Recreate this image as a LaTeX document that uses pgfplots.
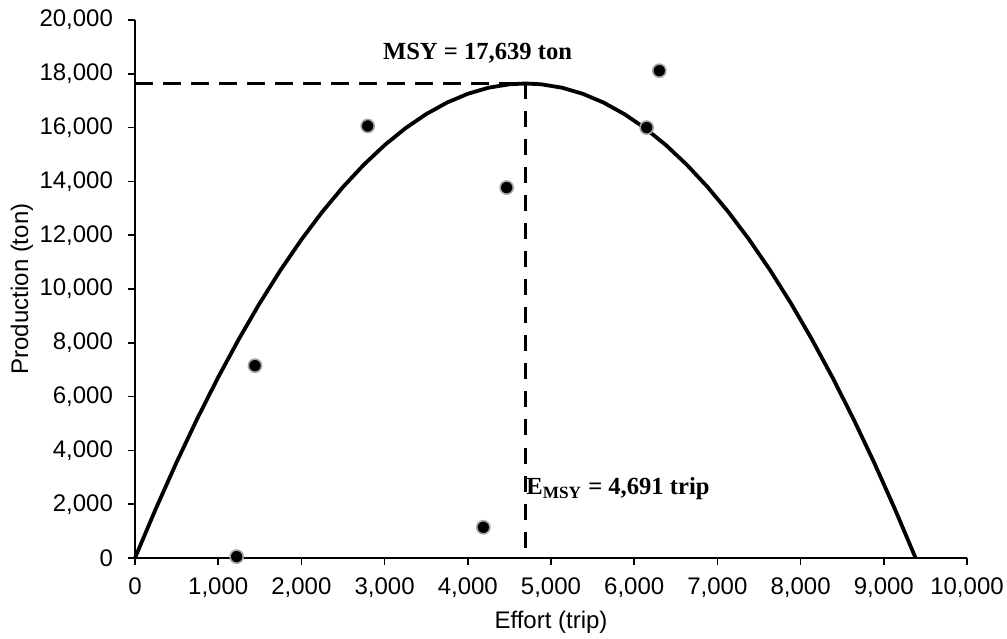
\documentclass[border=0pt]{standalone}
\usepackage{fontspec}
\setmainfont{Liberation Sans}
\newfontfamily\labelfont{Liberation Serif}
\usepackage{pgfplots}
\pgfplotsset{compat=1.18}

\begin{document}
\begin{tikzpicture}
\begin{axis}[
  width=416pt, height=269pt, scale only axis,
  xmin=0, xmax=10000, ymin=0, ymax=20000,
  axis lines=left,
  axis line style={-, line width=0.85pt},
  tick style={line width=0.85pt, black},
  tick align=outside,
  major tick length=3.5pt,
  xtick={0,1000,...,10000},
  ytick={0,2000,...,20000},
  /pgf/number format/assume math mode=true,
  /pgf/number format/.cd, 1000 sep={,}, fixed, precision=0, /pgfplots/.cd,
  scaled ticks=false,
  ticklabel style={font=\fontsize{12}{14}\selectfont},
  yticklabel style={xshift=-4pt},
  xticklabel style={yshift=-3pt},
  label style={font=\fontsize{12}{14}\selectfont},
  xlabel={Effort (trip)},
  ylabel={Production (ton)},
  xlabel style={at={(axis description cs:0.5,0)}, anchor=center, yshift=-32pt},
  ylabel style={at={(axis description cs:-0.1358,0.5)}, anchor=center},
  clip=false,
]
% fitted Schaefer curve
\addplot[black, line width=1.9pt] coordinates {
  (0,0) (250,1829.9) (500,3559.9) (750,5189.4) (1000,6718.5) (1250,8148.0)
  (1500,9476.9) (1750,10705.6) (2000,11834.4) (2250,12862.9) (2500,13791.1)
  (2750,14619.0) (3000,15347.0) (3250,15974.6) (3500,16502.0) (3750,16929.2)
  (4000,17256.2) (4250,17483.1) (4500,17609.7) (4691,17639) (4882,17609.7)
  (5132,17483.1) (5382,17256.2) (5632,16929.2) (5882,16502.0) (6132,15974.6)
  (6382,15347.0) (6632,14619.0) (6882,13791.1) (7132,12862.9) (7382,11834.4)
  (7632,10705.6) (7882,9476.9) (8132,8148.0) (8382,6718.5) (8632,5189.4)
  (8882,3559.9) (9132,1829.9) (9382,0)
};
% MSY guide lines
\addplot[black, line width=1.6pt, dash pattern=on 9pt off 5pt] coordinates {(0,17639) (4691,17639)};
\addplot[black, line width=1.6pt, dash pattern=on 8pt off 6pt] coordinates {(4691,17639) (4691,0)};
% observed data
\addplot[only marks, mark=*, mark size=3.3pt,
  mark options={fill=black, draw=gray!70, line width=0.8pt}] coordinates {
  (1222,50) (1442,7150) (2797,16060) (4187,1140) (4467,13770) (6150,16000) (6302,18115)
};
\node[anchor=base, inner sep=0pt, font=\labelfont\bfseries\fontsize{12.3}{14}\selectfont]
  at (axis cs:4117,18513) {MSY = 17,639 ton};
\node[anchor=base west, inner sep=0pt, font=\labelfont\bfseries\fontsize{12.3}{14}\selectfont]
  at (axis cs:4700,2342) {E\textsubscript{MSY} = 4,691 trip};
\coordinate (ll) at (rel axis cs:0,0);
\coordinate (ur) at (rel axis cs:1,1);
\end{axis}
\pgfresetboundingbox
\path (ll) ++(-67.5pt,-40.5pt) coordinate (a);
\path (ur) ++(20pt,10pt) coordinate (b);
\path[use as bounding box] (a) rectangle (b);
\end{tikzpicture}
\end{document}
